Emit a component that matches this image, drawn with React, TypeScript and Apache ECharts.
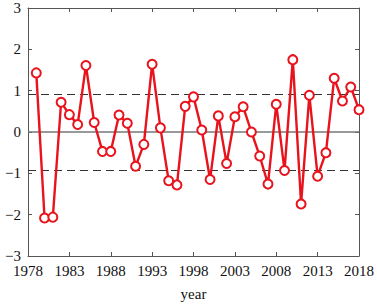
import React, { useEffect, useRef } from "react";
import * as echarts from "echarts";

const years = [
  1979, 1980, 1981, 1982, 1983, 1984, 1985, 1986, 1987, 1988,
  1989, 1990, 1991, 1992, 1993, 1994, 1995, 1996, 1997, 1998,
  1999, 2000, 2001, 2002, 2003, 2004, 2005, 2006, 2007, 2008,
  2009, 2010, 2011, 2012, 2013, 2014, 2015, 2016, 2017, 2018,
];
const values = [
  1.43, -2.08, -2.06, 0.72, 0.42, 0.18, 1.61, 0.23, -0.47, -0.47,
  0.41, 0.21, -0.83, -0.3, 1.64, 0.1, -1.18, -1.28, 0.62, 0.85,
  0.05, -1.15, 0.39, -0.76, 0.37, 0.61, 0.0, -0.58, -1.26, 0.67,
  -0.93, 1.75, -1.74, 0.89, -1.07, -0.5, 1.3, 0.75, 1.09, 0.54,
];
const thresholds = [0.92, -0.92];
const xTicks = { min: 1978, max: 2018, interval: 5 };
const yTicks = { min: -3, max: 3, interval: 1 };

export default function App() {
  const ref = useRef<HTMLDivElement>(null);
  useEffect(() => {
    if (!ref.current) return;
    const chart = echarts.init(ref.current, null, { renderer: "svg" });
    const font = "Liberation Serif";
    const axisLine = { show: true, onZero: false, lineStyle: { color: "#555", width: 1 } };
    const tick = { show: true, inside: true, length: 4, lineStyle: { color: "#555" } };
    chart.setOption({
      animation: false,
      grid: { left: 28, right: 14, top: 8, bottom: 45 },
      xAxis: [
        {
          type: "value",
          ...xTicks,
          position: "bottom",
          axisLine,
          axisTick: tick,
          splitLine: { show: false },
          axisLabel: {
            color: "#111",
            fontFamily: font,
            fontSize: 15,
            margin: 7,
            formatter: (v: number) => String(v),
          },
          name: "year",
          nameLocation: "middle",
          nameGap: 30,
          nameTextStyle: { color: "#111", fontFamily: font, fontSize: 15 },
        },
        {
          type: "value",
          ...xTicks,
          position: "top",
          axisLine,
          axisTick: tick,
          splitLine: { show: false },
          axisLabel: { show: false },
        },
      ],
      yAxis: [
        {
          type: "value",
          ...yTicks,
          position: "left",
          axisLine,
          axisTick: tick,
          splitLine: { show: false },
          axisLabel: {
            color: "#111",
            fontFamily: font,
            fontSize: 15,
            margin: 7,
            formatter: (v: number) => (v < 0 ? "\u2212" + Math.abs(v) : String(v)),
          },
        },
        {
          type: "value",
          ...yTicks,
          position: "right",
          axisLine,
          axisTick: tick,
          splitLine: { show: false },
          axisLabel: { show: false },
        },
      ],
      series: [
        {
          type: "line",
          data: years.map((y, i) => [y, values[i]]),
          symbol: "emptyCircle",
          symbolSize: 9,
          lineStyle: { color: "#e8131c", width: 2.4 },
          itemStyle: { color: "#e8131c", borderWidth: 2.2 },
          z: 5,
          markLine: {
            silent: true,
            symbol: "none",
            label: { show: false },
            data: [
              { yAxis: 0, lineStyle: { color: "#777", type: "solid", width: 1.5 } },
              ...thresholds.map((t) => ({
                yAxis: t,
                lineStyle: { color: "#333", type: [8, 5], width: 1 },
              })),
            ],
          },
        },
      ],
    });
    return () => chart.dispose();
  }, []);
  return (
    <div
      ref={ref}
      style={{ position: "absolute", left: 0, top: 0, width: 377, height: 306 }}
    />
  );
}
